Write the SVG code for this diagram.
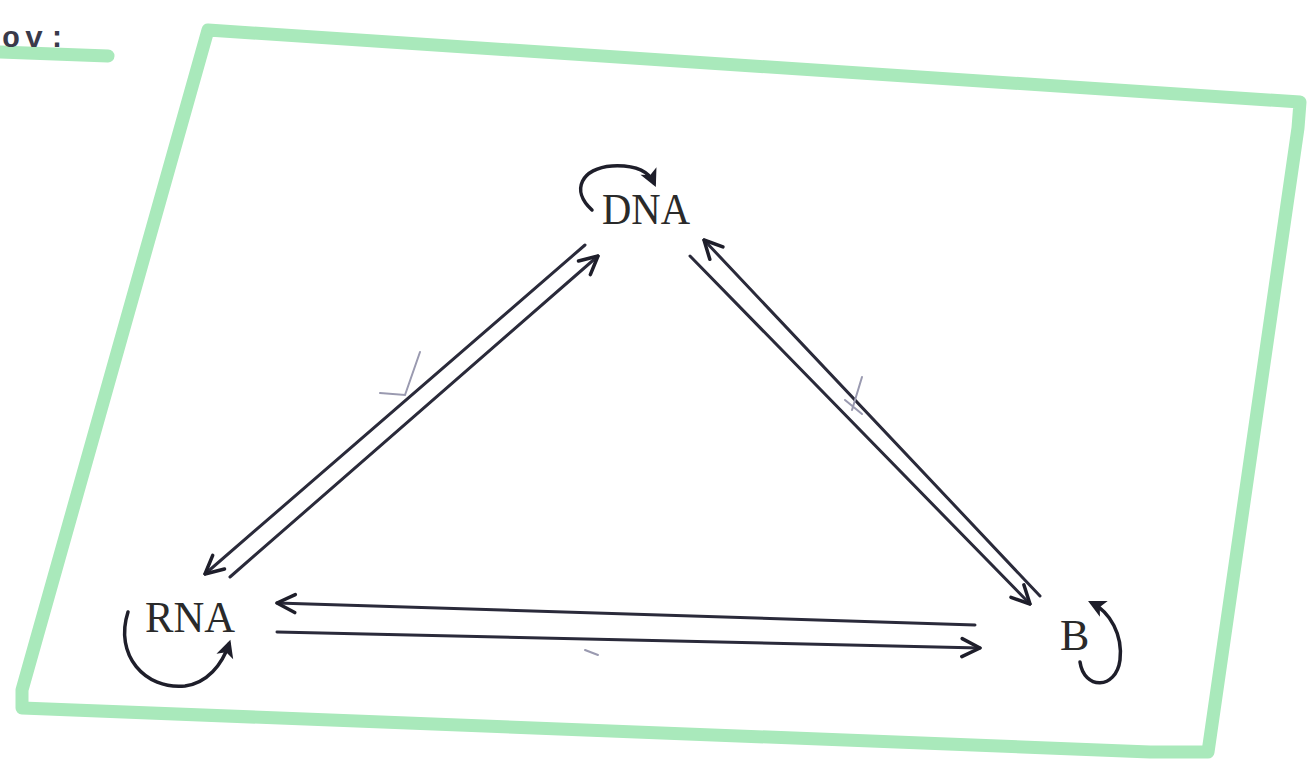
<svg xmlns="http://www.w3.org/2000/svg" width="1313" height="762" viewBox="0 0 1313 762">
<defs>
<style>
.frame{fill:none;stroke:#a9e9bb;stroke-width:13;stroke-linejoin:round;stroke-linecap:round}
.line{fill:none;stroke:#2a2a3a;stroke-width:3;stroke-linecap:round}
.loop{fill:none;stroke:#1e1e2a;stroke-width:3.5;stroke-linecap:round}
.lbl{font-family:"Liberation Serif","DejaVu Serif",serif;font-size:44px;fill:#2a2a2a}
.tick{fill:none;stroke:#9a9ab0;stroke-width:2;stroke-linecap:round}
</style>
<marker id="ahb" viewBox="0 0 20 20" refX="14" refY="10" markerWidth="22" markerHeight="22" markerUnits="userSpaceOnUse" orient="auto">
<path d="M2,2 L18,10 L2,18 L6,10 Z" fill="#1e1e2a"/>
</marker>
<marker id="av" viewBox="0 0 24 24" refX="22" refY="12" markerWidth="24" markerHeight="24" markerUnits="userSpaceOnUse" orient="auto">
<path d="M4,3 L22,12 L4,21" fill="none" stroke="#1e1e2a" stroke-width="3.5" stroke-linecap="round" stroke-linejoin="round"/>
</marker>
</defs>
<rect width="1313" height="762" fill="#ffffff"/>
<g id="frame">
<path class="frame" d="M208,30 L1300,102 L1298,128 L1208,752 L1150,752 L22,708 L22,690 Z"/>
<path class="frame" d="M0,52 L108,56"/>
</g>
<text x="2" y="47" font-family="Liberation Mono,monospace" font-size="30" font-weight="bold" letter-spacing="5" fill="#3a3a4a">ov:</text>
<g id="connectors">
<line class="line" x1="585" y1="245" x2="205" y2="574" marker-end="url(#av)"/>
<line class="line" x1="230" y1="577" x2="598" y2="256" marker-end="url(#av)"/>
<line class="line" x1="690" y1="256" x2="1030" y2="604" marker-end="url(#av)"/>
<line class="line" x1="1040" y1="596" x2="704" y2="240" marker-end="url(#av)"/>
<line class="line" x1="975" y1="625" x2="277" y2="603" marker-end="url(#av)"/>
<line class="line" x1="277" y1="632" x2="980" y2="648" marker-end="url(#av)"/>
<path class="tick" d="M420,352 L405,395 L380,393"/>
<path class="tick" d="M862,377 L852,410 M845,400 L862,414"/>
<path class="tick" d="M585,650 L598,655"/>
</g>
<g id="DNA">
<text class="lbl" x="602" y="224" textLength="88" lengthAdjust="spacingAndGlyphs">DNA</text>
<path class="loop" d="M592,210 C570,190 582,168 612,166 C632,165 648,170 654,183" marker-end="url(#ahb)"/>
</g>
<g id="RNA">
<text class="lbl" x="145" y="632" textLength="90" lengthAdjust="spacingAndGlyphs">RNA</text>
<path class="loop" d="M128,612 C114,655 145,690 185,686 C207,683 222,665 229,644" marker-end="url(#ahb)"/>
</g>
<g id="B">
<text class="lbl" x="1060" y="650">B</text>
<path class="loop" d="M1080,662 C1084,690 1116,690 1120,660 C1123,635 1110,612 1092,603" marker-end="url(#ahb)"/>
</g>
</svg>
